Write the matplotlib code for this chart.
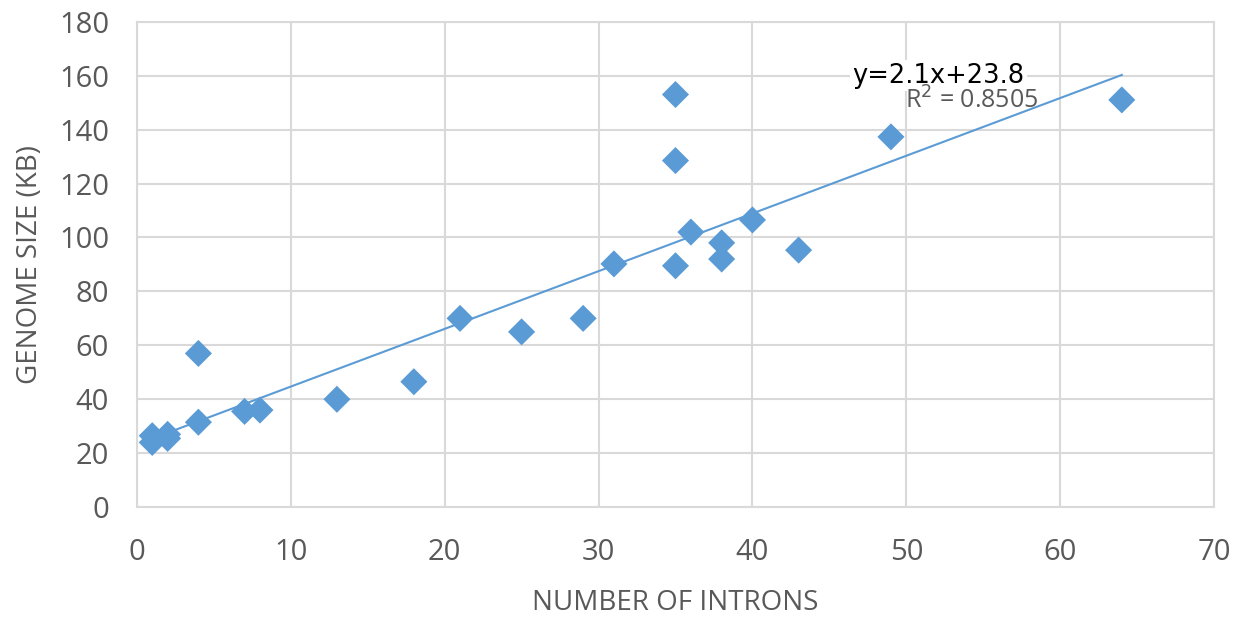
import numpy as np
import matplotlib
matplotlib.use("Agg")
import matplotlib.pyplot as plt

# Intron count vs genome size (kb)
introns = [1, 1, 2, 2, 4, 4, 7, 8, 13, 18, 21, 25, 29, 31,
           35, 35, 35, 36, 38, 38, 40, 43, 49, 64]
genome_kb = [26.5, 24, 27, 25.5, 57, 31.5, 35.5, 36, 40, 46.5, 70, 65, 70, 90.2,
             153, 128.5, 89.5, 102, 98, 92, 106.5, 95.3, 137.3, 151]

# trendline as drawn (label shows rounded coefficients)
slope, intercept = 2.14, 23.3
eq_text = "y=2.1x+23.8"
r2_text = "R$^2$ = 0.8505"

x_ticks = np.arange(0, 71, 10)
y_ticks = np.arange(0, 181, 20)

GREY = "#595959"
BLUE = "#5b9bd5"
GRID = "#d9d9d9"
FONT = "Open Sans"

fig = plt.figure(figsize=(12.44, 6.2), dpi=100)
ax = fig.add_axes([0.110, 0.182, 0.866, 0.783])

ax.set_xlim(0, 70)
ax.set_ylim(0, 180)
ax.set_xticks(x_ticks)
ax.set_yticks(y_ticks)
ax.grid(True, color=GRID, lw=1.5)
ax.set_axisbelow(True)
for s in ax.spines.values():
    s.set_color(GRID)
    s.set_linewidth(1.5)
ax.tick_params(length=0, labelsize=21, labelcolor=GREY)
ax.tick_params(axis="x", pad=22)
ax.tick_params(axis="y", pad=20)
for lab in ax.get_xticklabels() + ax.get_yticklabels():
    lab.set_fontfamily(FONT)

xs = np.array([min(introns), max(introns)])
ax.plot(xs, slope * xs + intercept, color=BLUE, lw=1.5, zorder=2)
ax.scatter(introns, genome_kb, marker="D", s=190, color=BLUE,
           edgecolors="none", zorder=3)

ax.text(46.5, 160, eq_text, fontsize=18.5, family="DejaVu Sans", color="black",
        ha="left", va="center",
        bbox=dict(facecolor="white", edgecolor="none", pad=2), zorder=4)
ax.text(49.9, 150.5, r2_text, fontsize=18, family=FONT, color=GREY,
        ha="left", va="center", zorder=4)

ax.set_xlabel("NUMBER OF INTRONS", fontsize=20, family=FONT, color=GREY,
              va="center")
ax.set_ylabel("GENOME SIZE (KB)", fontsize=20, family=FONT, color=GREY,
              va="center")
ax.xaxis.set_label_coords(0.5, -0.198)
ax.yaxis.set_label_coords(-0.099, 0.5)

fig.savefig("out.png", dpi=100)
